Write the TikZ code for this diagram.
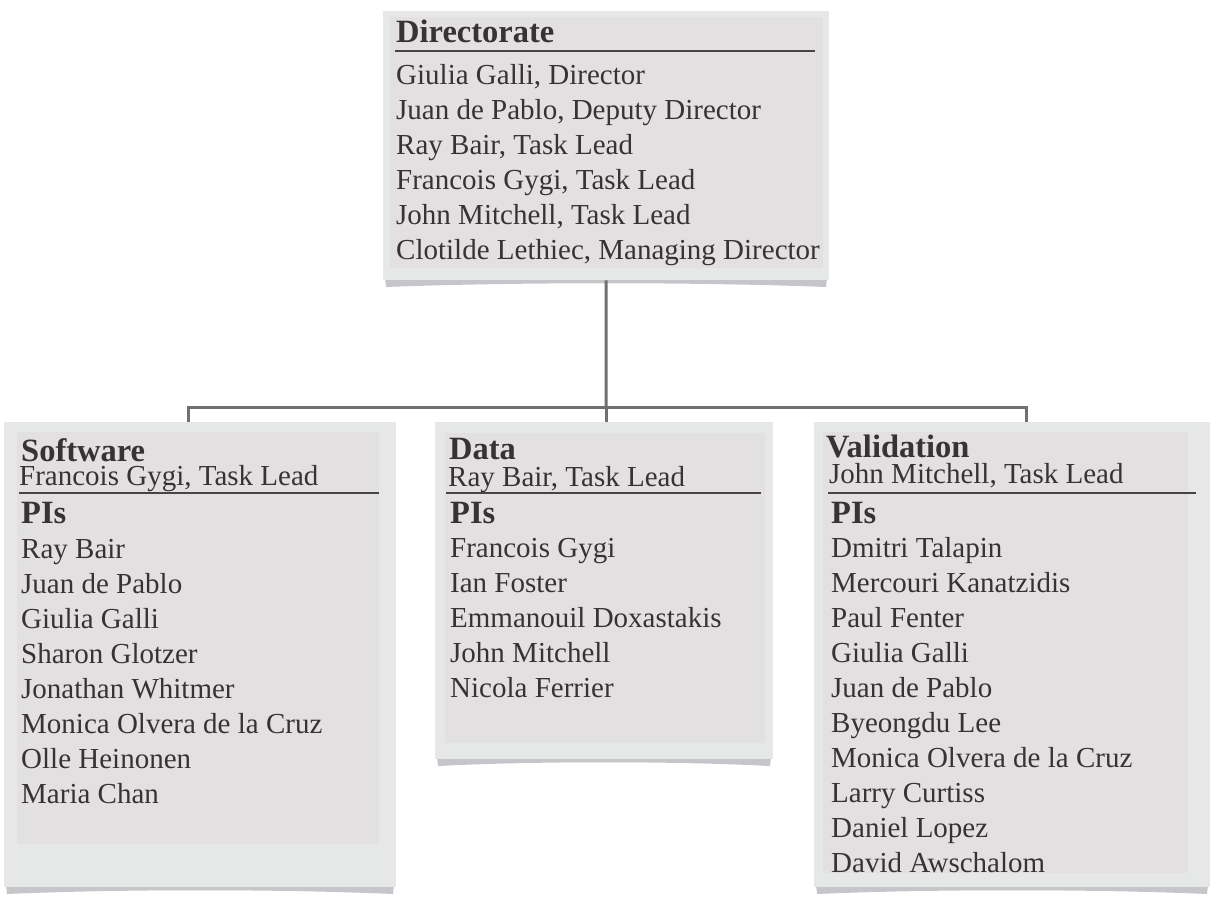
\documentclass[tikz,border=0pt]{standalone}
\usepackage{fontspec}
\setmainfont{Liberation Serif}
\definecolor{outerc}{RGB}{230,231,231}
\definecolor{innerc}{RGB}{226,224,225}
\definecolor{textc}{RGB}{56,51,51}
\definecolor{rulec}{RGB}{72,68,68}
\definecolor{connc}{RGB}{112,112,112}
\definecolor{shadc}{RGB}{150,150,158}
\tikzset{
  outerbox/.style={fill=outerc, draw=none, inner sep=0pt, anchor=north west},
  innerbox/.style={fill=innerc, draw=none},
  txt/.style={anchor=base west, inner sep=0pt, text=textc, font=\fontsize{29}{35}\selectfont},
  hd/.style={anchor=base west, inner sep=0pt, text=textc, font=\bfseries\fontsize{32.5}{35}\selectfont},
  hrule/.style={draw=rulec, line width=2.5pt},
  conn/.style={draw=connc, line width=3pt},
  shad/.style={fill=shadc, opacity=0.55}
}
\newcommand{\curvshadow}[3]{% x1, x2, bottom
  \fill[shad] (#1+2,#3-2) -- (#1+3,#3+7) .. controls ({#1+0.3*(#2-#1)},#3+2) and ({#2-0.3*(#2-#1)},#3+2) .. (#2-3,#3+7) -- (#2-2,#3-2) -- cycle;
}
\begin{document}
\begin{tikzpicture}[x=1pt,y=-1pt]
\useasboundingbox (0,0) rectangle (1217,899);
% shadows
\curvshadow{383}{829}{280}
\curvshadow{4}{396}{887}
\curvshadow{435}{773}{759}
\curvshadow{814}{1210}{887}
% connectors
\coordinate (bar) at (606,407);
\coordinate (swtop) at (188,422);
\coordinate (datop) at (606,422);
\coordinate (vatop) at (1026,422);
% boxes
\node[outerbox, minimum width=446pt, minimum height=269pt] (dir) at (383,11) {};
\fill[innerbox] (390,17) rectangle (823,268);
\node[outerbox, minimum width=392pt, minimum height=465pt] (sw) at (4,422) {};
\fill[innerbox] (17,432) rectangle (379,844);
\node[outerbox, minimum width=338pt, minimum height=337pt] (da) at (435,422) {};
\fill[innerbox] (445,433) rectangle (765,743);
\node[outerbox, minimum width=396pt, minimum height=465pt] (va) at (814,422) {};
\fill[innerbox] (823,432) rectangle (1188,873);
\draw[conn] (dir.south) -- (bar);
\draw[conn] (swtop) |- (bar) -| (vatop);
\draw[conn] (bar) -- (datop);
% Directorate
\node[hd] (dirh) at (396,43) {Directorate};
\draw[hrule] (395,51) -- (815,51);
\foreach \t [count=\i] in {{Giulia Galli, Director},{Juan de Pablo, Deputy Director},{Ray Bair, Task Lead},{Francois Gygi, Task Lead},{John Mitchell, Task Lead},{Clotilde Lethiec, Managing Director}}
  \node[txt] (dirl\i) at (396,49+35*\i) {\t};
% Software
\node[hd] (swh) at (21,461) {Software};
\node[txt] (swlead) at (19,485) {Francois Gygi, Task Lead};
\draw[hrule] (19,493) -- (379,493);
\node[hd] (swpi) at (21,523) {PIs};
\foreach \t [count=\i] in {Ray Bair,Juan de Pablo,Giulia Galli,Sharon Glotzer,Jonathan Whitmer,Monica Olvera de la Cruz,Olle Heinonen,Maria Chan}
  \node[txt] (swl\i) at (21,523+35*\i) {\t};
% Data
\node[hd] (dah) at (449,459) {Data};
\node[txt] (dalead) at (448,486) {Ray Bair, Task Lead};
\draw[hrule] (446,493) -- (761,493);
\node[hd] (dapi) at (450,523) {PIs};
\foreach \t [count=\i] in {Francois Gygi,Ian Foster,Emmanouil Doxastakis,John Mitchell,Nicola Ferrier}
  \node[txt] (dal\i) at (450,522+35*\i) {\t};
% Validation
\node[hd] (vah) at (826,457) {Validation};
\node[txt] (valead) at (829,483) {John Mitchell, Task Lead};
\draw[hrule] (828,493) -- (1196,493);
\node[hd] (vapi) at (831,523) {PIs};
\foreach \t [count=\i] in {Dmitri Talapin,Mercouri Kanatzidis,Paul Fenter,Giulia Galli,Juan de Pablo,Byeongdu Lee,Monica Olvera de la Cruz,Larry Curtiss,Daniel Lopez,David Awschalom}
  \node[txt] (val\i) at (831,522+35*\i) {\t};
\end{tikzpicture}
\end{document}
